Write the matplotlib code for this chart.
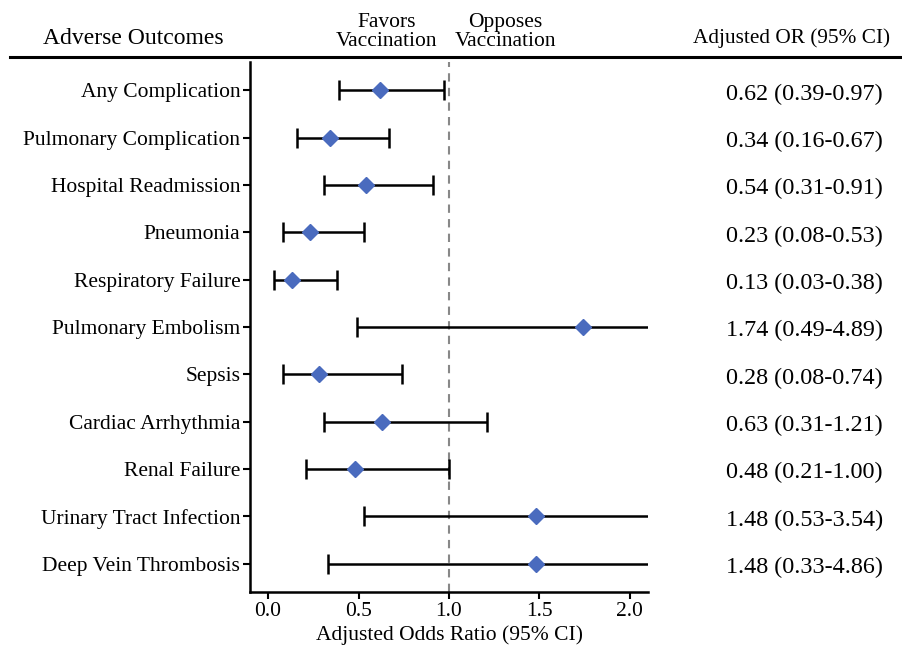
import matplotlib
matplotlib.use("Agg")
import matplotlib.pyplot as plt
import matplotlib.transforms as mtransforms
import numpy as np

plt.rcParams['font.family'] = ['Liberation Serif', 'DejaVu Serif']

outcomes = ["Any Complication", "Pulmonary Complication", "Hospital Readmission",
            "Pneumonia", "Respiratory Failure", "Pulmonary Embolism", "Sepsis",
            "Cardiac Arrhythmia", "Renal Failure", "Urinary Tract Infection",
            "Deep Vein Thrombosis"]
odds = [0.62, 0.34, 0.54, 0.23, 0.13, 1.74, 0.28, 0.63, 0.48, 1.48, 1.48]
lower = [0.39, 0.16, 0.31, 0.08, 0.03, 0.49, 0.08, 0.31, 0.21, 0.53, 0.33]
upper = [0.97, 0.67, 0.91, 0.53, 0.38, 4.89, 0.74, 1.21, 1.00, 3.54, 4.86]
xticks = [0.0, 0.5, 1.0, 1.5, 2.0]

fig = plt.figure(figsize=(9.02, 6.48), dpi=100)
W, H = 902, 648
ax = fig.add_axes([250 / W, 1 - 592 / H, (648 - 250) / W, (592 - 62) / H])

n = len(outcomes)
y = np.arange(n)
odds_a = np.array(odds)
err = np.vstack([odds_a - np.array(lower), np.array(upper) - odds_a])
ax.errorbar(odds_a, y, xerr=err, fmt='none', ecolor='black', elinewidth=1.8,
            capsize=7, capthick=1.8, zorder=2)
ax.plot(odds_a, y, 'D', color='#4A6BBE', markersize=8.5, zorder=3, linestyle='none')
ax.axvline(1.0, color='#888888', linestyle=(0, (4, 3)), linewidth=1.5, zorder=1)

ax.set_xlim(-0.1, 2.1)
ax.set_ylim(n - 0.4, -0.6)
ax.set_yticks(y)
ax.set_yticklabels(outcomes, fontsize=15.5)
ax.set_xticks(xticks)
ax.set_xticklabels([f"{t:.1f}" for t in xticks], fontsize=15.5)
ax.set_xlabel("Adjusted Odds Ratio (95% CI)", fontsize=15.5, labelpad=3)
ax.spines['top'].set_visible(False)
ax.spines['right'].set_visible(False)
ax.spines['left'].set_linewidth(1.8)
ax.spines['bottom'].set_linewidth(1.8)
ax.tick_params(axis='both', width=1.5, length=5, color='black', pad=2)

trans = mtransforms.blended_transform_factory(fig.transFigure, ax.transData)
for yi, o, l, u in zip(y, odds, lower, upper):
    ax.text(883 / W, yi + 0.08, f"{o:.2f} ({l:.2f}-{u:.2f})", transform=trans,
            ha='right', va='center', fontsize=17.4)

fig.text(133 / W, 1 - 38 / H, "Adverse Outcomes", ha='center', va='center', fontsize=17)
fig.text(890 / W, 1 - 38 / H, "Adjusted OR (95% CI)", ha='right', va='center', fontsize=15.3)
fig.text(437 / W, 1 - 32 / H, "Favors\nVaccination", ha='right', va='center', fontsize=15.5,
         multialignment='center', linespacing=1.0)
fig.text(455 / W, 1 - 32 / H, "Opposes\nVaccination", ha='left', va='center', fontsize=15.5,
         multialignment='center', linespacing=1.0)
fig.add_artist(plt.Line2D([10 / W, 1.0], [1 - 57 / H, 1 - 57 / H], color='black',
                          linewidth=2.2, transform=fig.transFigure))

fig.savefig("out.png", dpi=100)
